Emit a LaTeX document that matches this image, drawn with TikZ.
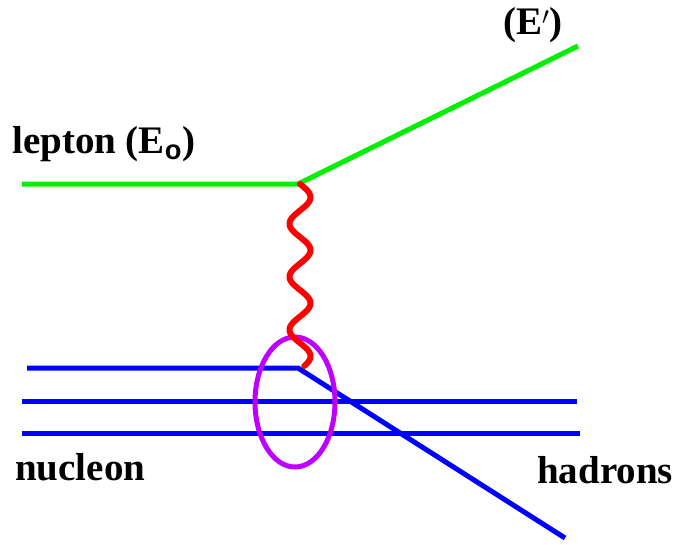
\documentclass[tikz,border=0pt]{standalone}
\usepackage{fontspec}
\setmainfont{Liberation Serif}
\setsansfont{Liberation Sans}
\usetikzlibrary{shapes.geometric}
\definecolor{lgreen}{RGB}{0,240,0}
\definecolor{lred}{RGB}{255,0,0}
\definecolor{lblue}{RGB}{0,0,255}
\definecolor{lpurple}{RGB}{190,0,255}
\begin{document}
\begin{tikzpicture}[x=1pt,y=-1pt,
  lab/.style={anchor=base west,inner sep=0pt,font=\fontsize{39}{41}\selectfont\bfseries},
  line/.style={line width=5pt}]
\useasboundingbox (0,0) rectangle (675,544);
% coordinates
\coordinate (lin) at (22,184);
\coordinate (v) at (298,184);
\coordinate (lout) at (578,46);
\coordinate (q) at (298,368);
\coordinate (n1) at (27,368);
\coordinate (h) at (565,538);
\coordinate (m1) at (22,401);
\coordinate (m2) at (577,401);
\coordinate (b1) at (22,433);
\coordinate (b2) at (580,433);
% lepton
\draw[line,lgreen] (lin) -- (v) -- (lout);
% nucleon quarks
\draw[line,lblue] (n1) -- (q) -- (h);
\draw[line,lblue] (m1) -- (m2);
\draw[line,lblue] (b1) -- (b2);
% blob
\node[draw=lpurple,line width=5pt,ellipse,minimum width=80pt,minimum height=130pt,inner sep=0pt] (blob) at (295,402) {};
% photon
\draw[lred,line width=6pt,line cap=round,line join=round,domain=0:182,samples=160,variable=\t]
  plot ({300+10.5*sin(6.7925*\t)},{184+\t});
% labels
\node[lab] (lep) at (12,153) {lepton (E\textsubscript{\textsf{o}})};
\node[lab] (ep) at (503,34) {(E$'$)};
\node[lab] (nuc) at (15,480) {nucleon};
\node[lab] (had) at (537,483) {hadrons};
\end{tikzpicture}
\end{document}
